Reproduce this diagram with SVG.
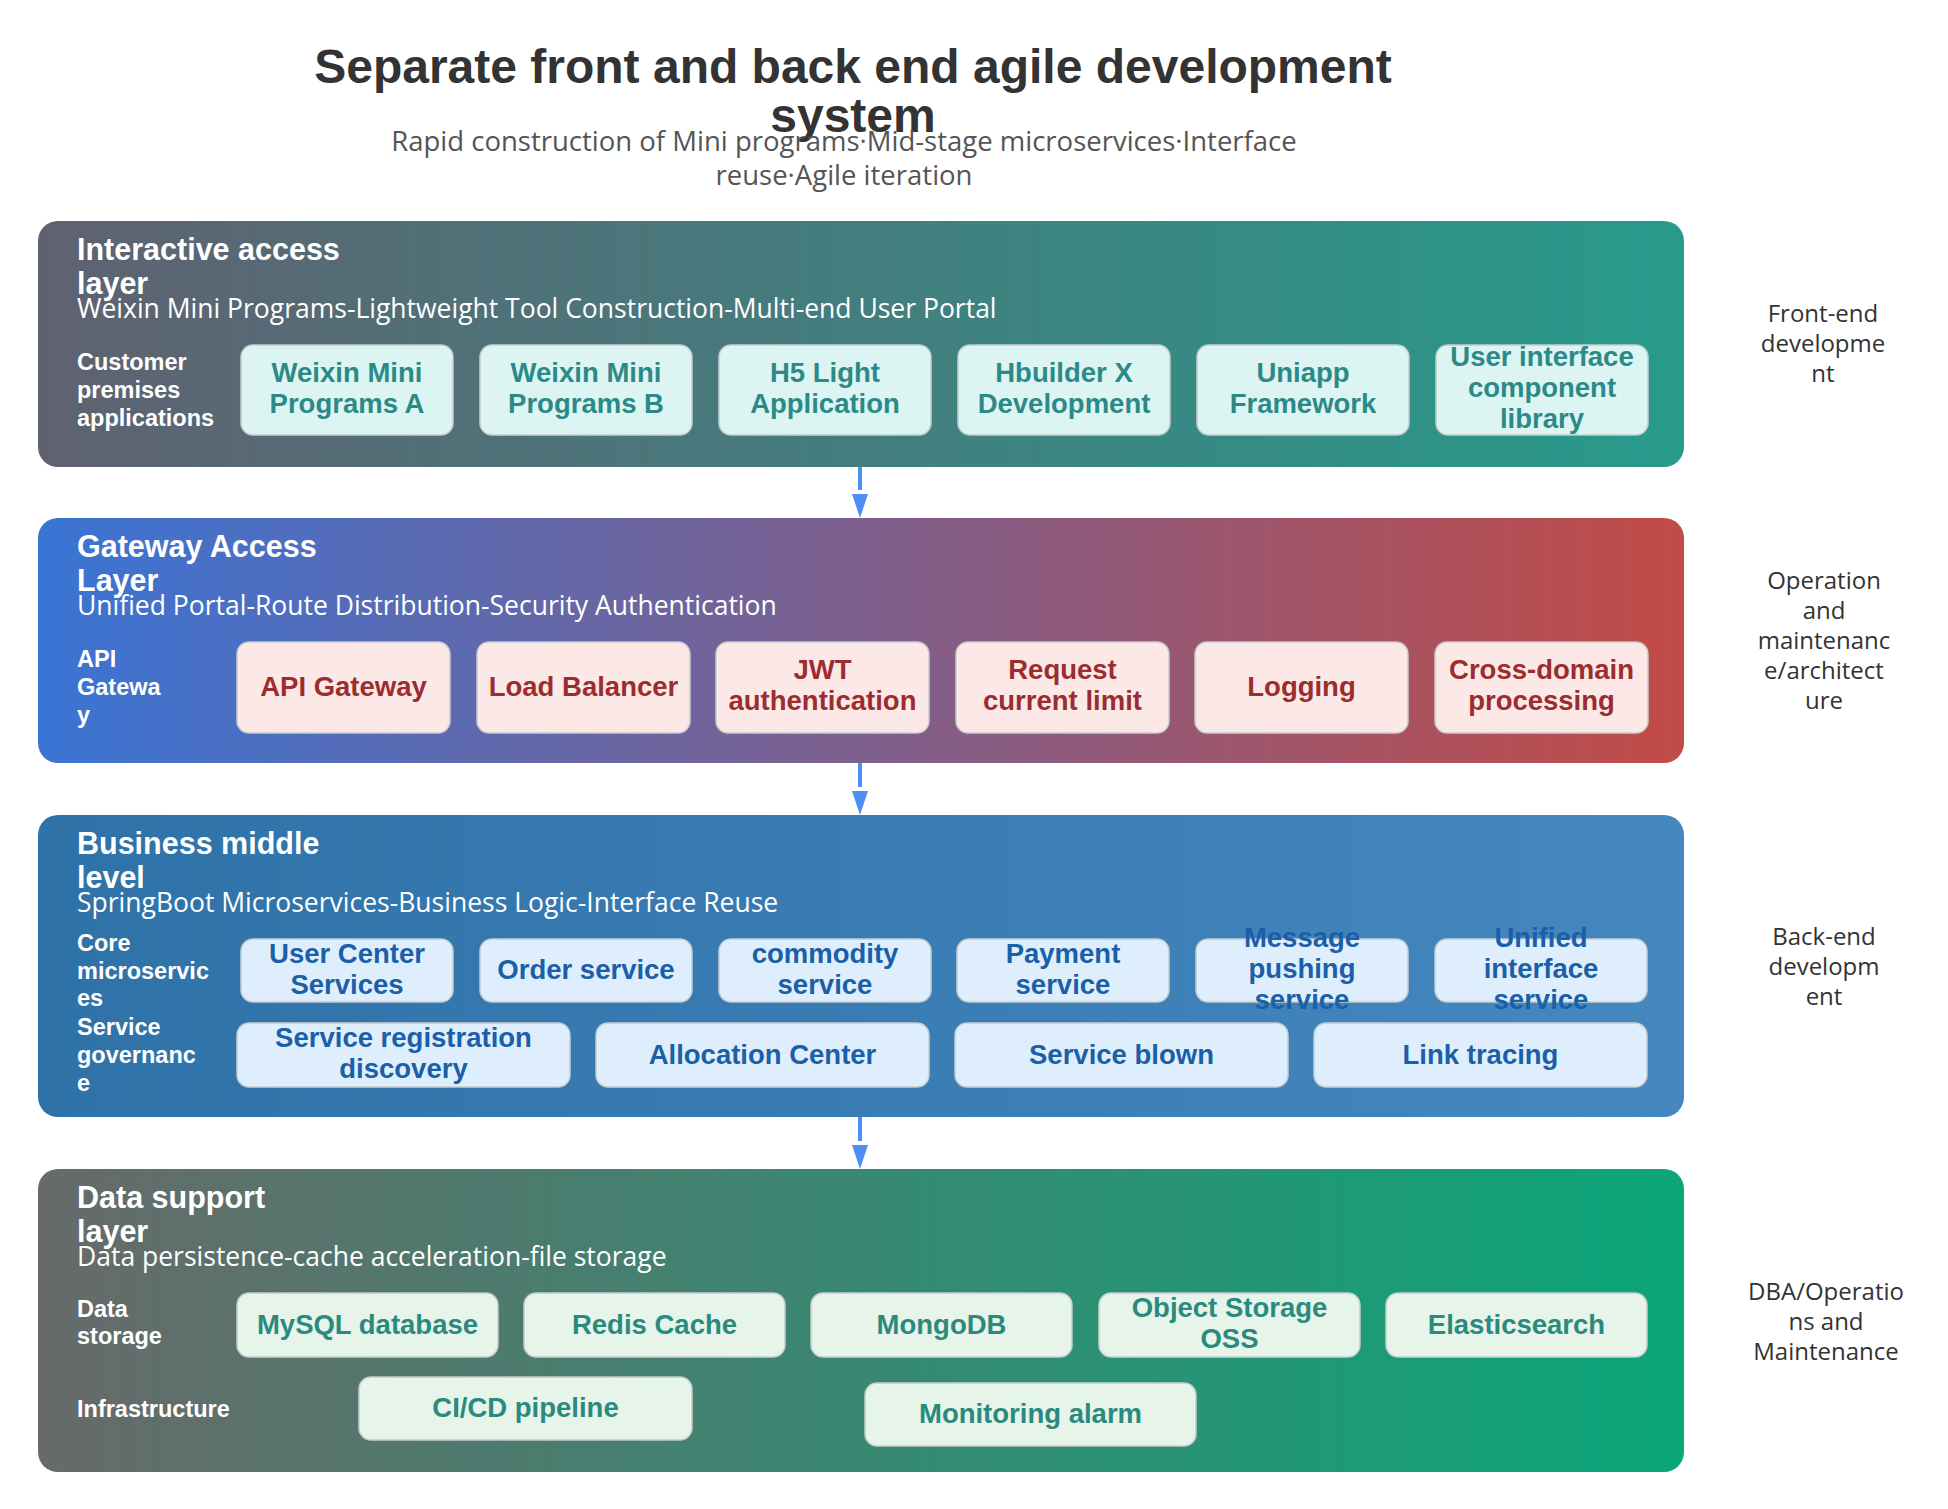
<svg xmlns="http://www.w3.org/2000/svg" width="1948" height="1509" viewBox="0 0 1948 1509">
<defs>
<linearGradient id="g1" x1="0" y1="0" x2="1" y2="0"><stop offset="0" stop-color="#5f6171"/><stop offset="1" stop-color="#279b8b"/></linearGradient>
<linearGradient id="g2" x1="0" y1="0" x2="1" y2="0"><stop offset="0" stop-color="#3a74d4"/><stop offset="1" stop-color="#c24b47"/></linearGradient>
<linearGradient id="g3" x1="0" y1="0" x2="1" y2="0"><stop offset="0" stop-color="#2e72a8"/><stop offset="1" stop-color="#4587bf"/></linearGradient>
<linearGradient id="g4" x1="0" y1="0" x2="1" y2="0"><stop offset="0" stop-color="#676a6a"/><stop offset="1" stop-color="#0ba679"/></linearGradient>
<marker id="ah" markerUnits="userSpaceOnUse" markerWidth="30" markerHeight="18" viewBox="0 0 30 18" refX="0" refY="9" orient="auto">
<path d="M4,1 L28,9 L4,17 z" fill="#4d8ef7"/>
</marker>
</defs>
<style>
.title{font-family:"Liberation Sans",Arial,sans-serif;font-weight:bold;font-size:48px;fill:#333333;text-anchor:middle}
.sub{font-family:"Open Sans","Liberation Sans",sans-serif;font-size:27.5px;fill:#555555;text-anchor:middle}
.head{font-family:"Liberation Sans",Arial,sans-serif;font-weight:bold;font-size:30.5px;fill:#ffffff}
.hsub{font-family:"Open Sans","Liberation Sans",sans-serif;font-size:26.5px;fill:#ffffff}
.row{font-family:"Liberation Sans",Arial,sans-serif;font-weight:bold;font-size:23.5px;fill:#ffffff}
.side{font-family:"Open Sans","Liberation Sans",sans-serif;font-size:24px;fill:#333333;text-anchor:middle}
.cell{stroke:#c3cdce;stroke-width:1.5}
.ct{font-family:"Liberation Sans",Arial,sans-serif;font-weight:bold;font-size:27.5px;text-anchor:middle}
.c1{fill:#dcf4f2}.t1{fill:#2b8a87}
.c2{fill:#fde8e8}.t2{fill:#9b2d2f}
.c3{fill:#deeefc}.t3{fill:#1a5fa8}
.c4{fill:#e6f4ea}.t4{fill:#2a8a7e}
.conn{stroke:#4d8ef7;stroke-width:4;fill:none}
</style>

<g id="title">
<text class="title" x="853" y="83">Separate front and back end agile development</text>
<text class="title" x="853" y="132">system</text>
<text class="sub" x="844" y="151">Rapid construction of Mini programs·Mid-stage microservices·Interface</text>
<text class="sub" x="844" y="185">reuse·Agile iteration</text>
</g>

<g id="layer-interactive">
<rect x="38" y="221" width="1646" height="246" rx="20" fill="url(#g1)"/>
<text class="head" x="77" y="260">Interactive access</text>
<text class="head" x="77" y="294">layer</text>
<text class="hsub" x="77" y="318">Weixin Mini Programs-Lightweight Tool Construction-Multi-end User Portal</text>
<text class="row" x="77" y="370">Customer</text>
<text class="row" x="77" y="398">premises</text>
<text class="row" x="77" y="426">applications</text>
</g>
<g id="n-wx-a"><rect class="cell c1" x="241" y="345" width="212" height="90" rx="12"/><text class="ct t1" x="347" y="382">Weixin Mini</text><text class="ct t1" x="347" y="413">Programs A</text></g>
<g id="n-wx-b"><rect class="cell c1" x="480" y="345" width="212" height="90" rx="12"/><text class="ct t1" x="586" y="382">Weixin Mini</text><text class="ct t1" x="586" y="413">Programs B</text></g>
<g id="n-h5"><rect class="cell c1" x="719" y="345" width="212" height="90" rx="12"/><text class="ct t1" x="825" y="382">H5 Light</text><text class="ct t1" x="825" y="413">Application</text></g>
<g id="n-hbuilder"><rect class="cell c1" x="958" y="345" width="212" height="90" rx="12"/><text class="ct t1" x="1064" y="382">Hbuilder X</text><text class="ct t1" x="1064" y="413">Development</text></g>
<g id="n-uniapp"><rect class="cell c1" x="1197" y="345" width="212" height="90" rx="12"/><text class="ct t1" x="1303" y="382">Uniapp</text><text class="ct t1" x="1303" y="413">Framework</text></g>
<g id="n-ui"><rect class="cell c1" x="1436" y="345" width="212" height="90" rx="12"/><text class="ct t1" x="1542" y="366">User interface</text><text class="ct t1" x="1542" y="397">component</text><text class="ct t1" x="1542" y="428">library</text></g>
<g id="side-front"><text class="side" x="1823" y="322">Front-end</text><text class="side" x="1823" y="352">developme</text><text class="side" x="1823" y="382">nt</text></g>

<g id="layer-gateway">
<rect x="38" y="518" width="1646" height="245" rx="20" fill="url(#g2)"/>
<text class="head" x="77" y="557">Gateway Access</text>
<text class="head" x="77" y="591">Layer</text>
<text class="hsub" x="77" y="615">Unified Portal-Route Distribution-Security Authentication</text>
<text class="row" x="77" y="667">API</text>
<text class="row" x="77" y="695">Gatewa</text>
<text class="row" x="77" y="723">y</text>
</g>
<g id="n-apigw"><rect class="cell c2" x="237" y="642" width="213" height="91" rx="12"/><text class="ct t2" x="343.5" y="696">API Gateway</text></g>
<g id="n-lb"><rect class="cell c2" x="477" y="642" width="213" height="91" rx="12"/><text class="ct t2" x="583.5" y="696">Load Balancer</text></g>
<g id="n-jwt"><rect class="cell c2" x="716" y="642" width="213" height="91" rx="12"/><text class="ct t2" x="822.5" y="679">JWT</text><text class="ct t2" x="822.5" y="710">authentication</text></g>
<g id="n-limit"><rect class="cell c2" x="956" y="642" width="213" height="91" rx="12"/><text class="ct t2" x="1062.5" y="679">Request</text><text class="ct t2" x="1062.5" y="710">current limit</text></g>
<g id="n-log"><rect class="cell c2" x="1195" y="642" width="213" height="91" rx="12"/><text class="ct t2" x="1301.5" y="696">Logging</text></g>
<g id="n-cors"><rect class="cell c2" x="1435" y="642" width="213" height="91" rx="12"/><text class="ct t2" x="1541.5" y="679">Cross-domain</text><text class="ct t2" x="1541.5" y="710">processing</text></g>
<g id="side-ops"><text class="side" x="1824" y="589">Operation</text><text class="side" x="1824" y="619">and</text><text class="side" x="1824" y="649">maintenanc</text><text class="side" x="1824" y="679">e/architect</text><text class="side" x="1824" y="709">ure</text></g>

<g id="layer-business">
<rect x="38" y="815" width="1646" height="302" rx="20" fill="url(#g3)"/>
<text class="head" x="77" y="854">Business middle</text>
<text class="head" x="77" y="888">level</text>
<text class="hsub" x="77" y="912">SpringBoot Microservices-Business Logic-Interface Reuse</text>
<text class="row" x="77" y="951">Core</text>
<text class="row" x="77" y="979">microservic</text>
<text class="row" x="77" y="1006">es</text>
<text class="row" x="77" y="1035">Service</text>
<text class="row" x="77" y="1063">governanc</text>
<text class="row" x="77" y="1091">e</text>
</g>
<g id="n-user"><rect class="cell c3" x="241" y="939" width="212" height="63" rx="12"/><text class="ct t3" x="347" y="963">User Center</text><text class="ct t3" x="347" y="994">Services</text></g>
<g id="n-order"><rect class="cell c3" x="480" y="939" width="212" height="63" rx="12"/><text class="ct t3" x="586" y="979">Order service</text></g>
<g id="n-commodity"><rect class="cell c3" x="719" y="939" width="212" height="63" rx="12"/><text class="ct t3" x="825" y="963">commodity</text><text class="ct t3" x="825" y="994">service</text></g>
<g id="n-payment"><rect class="cell c3" x="957" y="939" width="212" height="63" rx="12"/><text class="ct t3" x="1063" y="963">Payment</text><text class="ct t3" x="1063" y="994">service</text></g>
<g id="n-message"><rect class="cell c3" x="1196" y="939" width="212" height="63" rx="12"/><text class="ct t3" x="1302" y="947">Message</text><text class="ct t3" x="1302" y="978">pushing</text><text class="ct t3" x="1302" y="1009">service</text></g>
<g id="n-unified"><rect class="cell c3" x="1435" y="939" width="212" height="63" rx="12"/><text class="ct t3" x="1541" y="947">Unified</text><text class="ct t3" x="1541" y="978">interface</text><text class="ct t3" x="1541" y="1009">service</text></g>
<g id="n-registry"><rect class="cell c3" x="237" y="1023" width="333" height="64" rx="12"/><text class="ct t3" x="403.5" y="1047">Service registration</text><text class="ct t3" x="403.5" y="1078">discovery</text></g>
<g id="n-config"><rect class="cell c3" x="596" y="1023" width="333" height="64" rx="12"/><text class="ct t3" x="762.5" y="1064">Allocation Center</text></g>
<g id="n-breaker"><rect class="cell c3" x="955" y="1023" width="333" height="64" rx="12"/><text class="ct t3" x="1121.5" y="1064">Service blown</text></g>
<g id="n-trace"><rect class="cell c3" x="1314" y="1023" width="333" height="64" rx="12"/><text class="ct t3" x="1480.5" y="1064">Link tracing</text></g>
<g id="side-back"><text class="side" x="1824" y="945">Back-end</text><text class="side" x="1824" y="975">developm</text><text class="side" x="1824" y="1005">ent</text></g>

<g id="layer-data">
<rect x="38" y="1169" width="1646" height="303" rx="20" fill="url(#g4)"/>
<text class="head" x="77" y="1208">Data support</text>
<text class="head" x="77" y="1242">layer</text>
<text class="hsub" x="77" y="1266">Data persistence-cache acceleration-file storage</text>
<text class="row" x="77" y="1317">Data</text>
<text class="row" x="77" y="1344">storage</text>
<text class="row" x="77" y="1417">Infrastructure</text>
</g>
<g id="n-mysql"><rect class="cell c4" x="237" y="1293" width="261" height="64" rx="12"/><text class="ct t4" x="367.5" y="1334">MySQL database</text></g>
<g id="n-redis"><rect class="cell c4" x="524" y="1293" width="261" height="64" rx="12"/><text class="ct t4" x="654.5" y="1334">Redis Cache</text></g>
<g id="n-mongo"><rect class="cell c4" x="811" y="1293" width="261" height="64" rx="12"/><text class="ct t4" x="941.5" y="1334">MongoDB</text></g>
<g id="n-oss"><rect class="cell c4" x="1099" y="1293" width="261" height="64" rx="12"/><text class="ct t4" x="1229.5" y="1317">Object Storage</text><text class="ct t4" x="1229.5" y="1348">OSS</text></g>
<g id="n-es"><rect class="cell c4" x="1386" y="1293" width="261" height="64" rx="12"/><text class="ct t4" x="1516.5" y="1334">Elasticsearch</text></g>
<g id="n-cicd"><rect class="cell c4" x="359" y="1377" width="333" height="63" rx="12"/><text class="ct t4" x="525.5" y="1417">CI/CD pipeline</text></g>
<g id="n-monitor"><rect class="cell c4" x="865" y="1383" width="331" height="63" rx="12"/><text class="ct t4" x="1030.5" y="1423">Monitoring alarm</text></g>
<g id="side-dba"><text class="side" x="1826" y="1300">DBA/Operatio</text><text class="side" x="1826" y="1330">ns and</text><text class="side" x="1826" y="1360">Maintenance</text></g>

<g id="connectors">
<path class="conn" d="M860,467 L860,490" marker-end="url(#ah)"/>
<path class="conn" d="M860,763 L860,787" marker-end="url(#ah)"/>
<path class="conn" d="M860,1117 L860,1141" marker-end="url(#ah)"/>
</g>
</svg>
